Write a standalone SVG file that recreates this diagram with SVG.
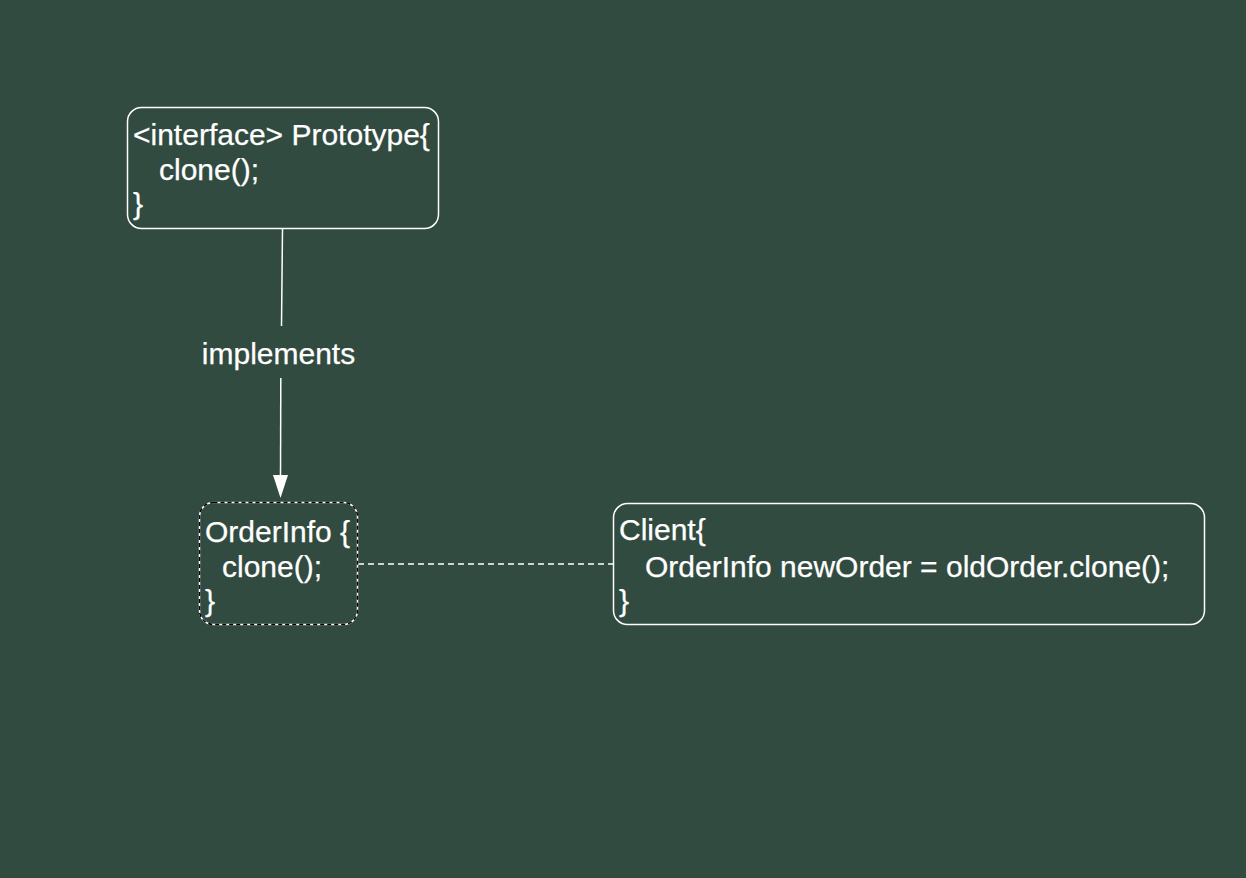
<svg xmlns="http://www.w3.org/2000/svg" width="1246" height="878" viewBox="0 0 1246 878">
  <defs>
    <style>
      .bg { fill: #324b40; }
      .box { fill: none; stroke: #ffffff; stroke-width: 1.5; }
      .dashover { fill: none; stroke: #000000; stroke-width: 1.5; stroke-dasharray: 4 3; }
      .t { font-family: "Liberation Sans", Arial, Helvetica, sans-serif; font-size: 30px; fill: #ffffff; stroke: #ffffff; stroke-width: 0.25; }
      .edge { stroke: #ffffff; stroke-width: 1.5; fill: none; }
      .dash { stroke: #ffffff; stroke-width: 1.5; fill: none; stroke-dasharray: 6 4; }
    </style>
  </defs>
  <rect class="bg" x="0" y="0" width="1246" height="878"/>

  <g id="connectors">
    <line class="edge" x1="282.5" y1="229" x2="281.5" y2="326"/>
    <text class="t" x="278.5" y="364" text-anchor="middle">implements</text>
    <line class="edge" x1="280.8" y1="378" x2="280.5" y2="478"/>
    <polygon points="273,475 288,475 280.5,498" fill="#ffffff"/>
    <line class="dash" x1="358" y1="564" x2="613" y2="564"/>
  </g>

  <g id="prototype">
    <rect class="box" x="127.5" y="107.5" width="311" height="121" rx="14"/>
    <text class="t" x="133" y="145">&lt;interface&gt; Prototype{</text>
    <text class="t" x="159" y="180">clone();</text>
    <text class="t" x="133" y="214">}</text>
  </g>

  <g id="orderinfo">
    <rect class="box" x="199.5" y="502.5" width="158" height="122" rx="14"/>
    <rect class="dashover" x="199.5" y="502.5" width="158" height="122" rx="14"/>
    <text class="t" x="205" y="542">OrderInfo {</text>
    <text class="t" x="222" y="577">clone();</text>
    <text class="t" x="205" y="611">}</text>
  </g>

  <g id="client">
    <rect class="box" x="613.5" y="503.5" width="591" height="121" rx="14"/>
    <text class="t" x="619" y="540">Client{</text>
    <text class="t" x="645" y="577">OrderInfo newOrder = oldOrder.clone();</text>
    <text class="t" x="619" y="611">}</text>
  </g>
</svg>
